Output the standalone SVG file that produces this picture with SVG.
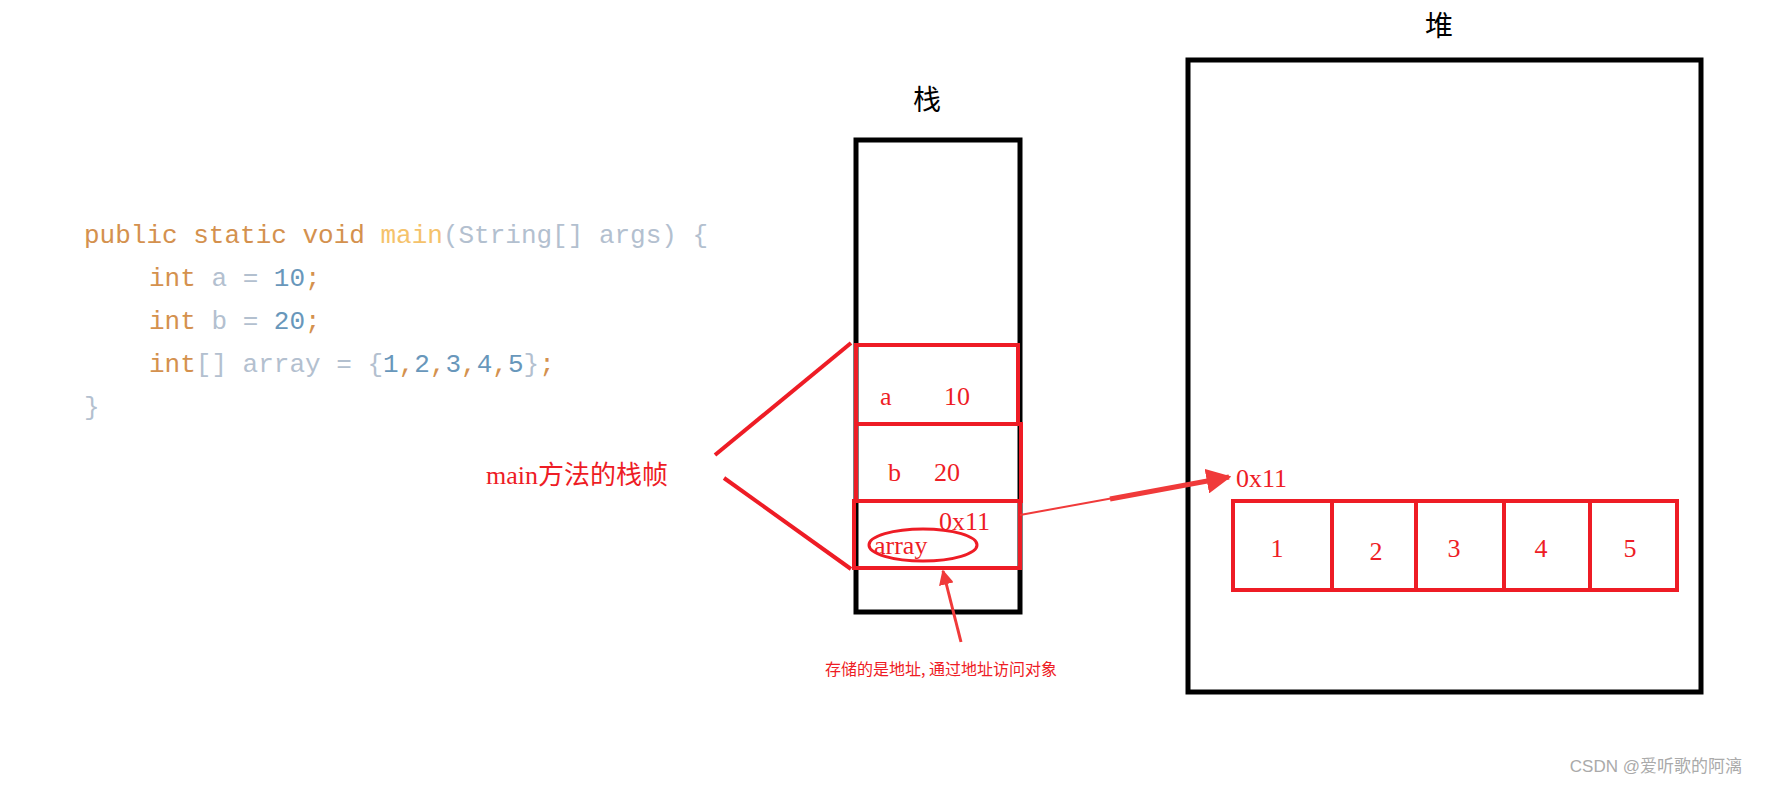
<svg xmlns="http://www.w3.org/2000/svg" width="1774" height="785" viewBox="0 0 1774 785">
<style>
.blk{fill:none;stroke:#000;stroke-width:5}
.red{fill:none;stroke:#ee1c25;stroke-width:4}
.rt{fill:#ee1c25;font-family:"Liberation Serif","Noto Sans CJK SC",serif;font-size:26px}
.code{font-family:"Liberation Mono",monospace;font-size:26px}
.kw{fill:#d4914e}.id{fill:#b3c0cf}.num{fill:#6897bb}.fn{fill:#f5c26b}
</style>
<defs>
<marker id="ah" viewBox="0 0 10 10" refX="9" refY="5" markerWidth="5" markerHeight="5" orient="auto" markerUnits="strokeWidth"><path d="M0,0L10,5L0,10z" fill="#f03a3a"/></marker>
</defs>
<rect width="1774" height="785" fill="#fff"/>
<g id="code" class="code">
<text x="84" y="243"><tspan class="kw">public static void </tspan><tspan class="fn">main</tspan><tspan class="id">(String[] args) {</tspan></text>
<text x="149" y="286"><tspan class="kw">int </tspan><tspan class="id">a = </tspan><tspan class="num">10</tspan><tspan class="kw">;</tspan></text>
<text x="149" y="329"><tspan class="kw">int </tspan><tspan class="id">b = </tspan><tspan class="num">20</tspan><tspan class="kw">;</tspan></text>
<text x="149" y="372"><tspan class="kw">int</tspan><tspan class="id">[] array = {</tspan><tspan class="num">1</tspan><tspan class="kw">,</tspan><tspan class="num">2</tspan><tspan class="kw">,</tspan><tspan class="num">3</tspan><tspan class="kw">,</tspan><tspan class="num">4</tspan><tspan class="kw">,</tspan><tspan class="num">5</tspan><tspan class="id">}</tspan><tspan class="kw">;</tspan></text>
<text x="84" y="415" class="id">}</text>
</g>
<g id="stack">
<text x="927" y="110" text-anchor="middle" font-family="'Noto Sans CJK SC',sans-serif" font-size="28">栈</text>
<rect class="blk" x="856" y="140" width="164" height="472"/>
</g>
<g id="frame-a"><rect class="red" x="856" y="345" width="162" height="79"/>
<text class="rt" x="880" y="405">a</text><text class="rt" x="944" y="405">10</text></g>
<g id="frame-b"><rect class="red" x="856" y="424" width="165" height="77"/>
<text class="rt" x="888" y="481">b</text><text class="rt" x="934" y="481">20</text></g>
<g id="frame-array"><rect class="red" x="854" y="501" width="166" height="67"/>
<text class="rt" x="939" y="530">0x11</text><text class="rt" x="874" y="554">array</text>
<ellipse cx="923" cy="545" rx="54" ry="16" fill="none" stroke="#ee1c25" stroke-width="3"/></g>
<g id="label"><text class="rt" x="486" y="484">main方法的栈帧</text>
<text x="941" y="675" text-anchor="middle" fill="#ee1c25" font-family="'Noto Sans CJK SC',sans-serif" font-size="16">存储的是地址, 通过地址访问对象</text></g>
<g id="heap">
<text x="1439" y="36" text-anchor="middle" font-family="'Noto Sans CJK SC',sans-serif" font-size="28">堆</text>
<rect class="blk" x="1188" y="60" width="513" height="632"/>
<text class="rt" x="1236" y="487">0x11</text>
</g>
<g id="cells">
<rect class="red" x="1233" y="501" width="99" height="89"/><text class="rt" x="1277" y="557" text-anchor="middle">1</text>
<rect class="red" x="1332" y="501" width="84" height="89"/><text class="rt" x="1376" y="560" text-anchor="middle">2</text>
<rect class="red" x="1416" y="501" width="88" height="89"/><text class="rt" x="1454" y="557" text-anchor="middle">3</text>
<rect class="red" x="1504" y="501" width="86" height="89"/><text class="rt" x="1541" y="557" text-anchor="middle">4</text>
<rect class="red" x="1590" y="501" width="87" height="89"/><text class="rt" x="1630" y="557" text-anchor="middle">5</text>
</g>
<g id="connectors">
<line class="red" x1="715" y1="455" x2="851" y2="343"/>
<line class="red" x1="724" y1="478" x2="851" y2="569"/>
<line x1="1020" y1="515" x2="1229" y2="477" stroke="#f03a3a" stroke-width="2"/>
<line x1="1110" y1="499" x2="1229" y2="477" stroke="#f03a3a" stroke-width="5" marker-end="url(#ah)"/>
<line x1="961" y1="642" x2="943" y2="571" stroke="#f03a3a" stroke-width="3" marker-end="url(#ah)"/>
</g>
<text x="1742" y="772" text-anchor="end" fill="#aaa" font-family="'Liberation Sans','Noto Sans CJK SC',sans-serif" font-size="17">CSDN @爱听歌的阿漓</text>
</svg>
